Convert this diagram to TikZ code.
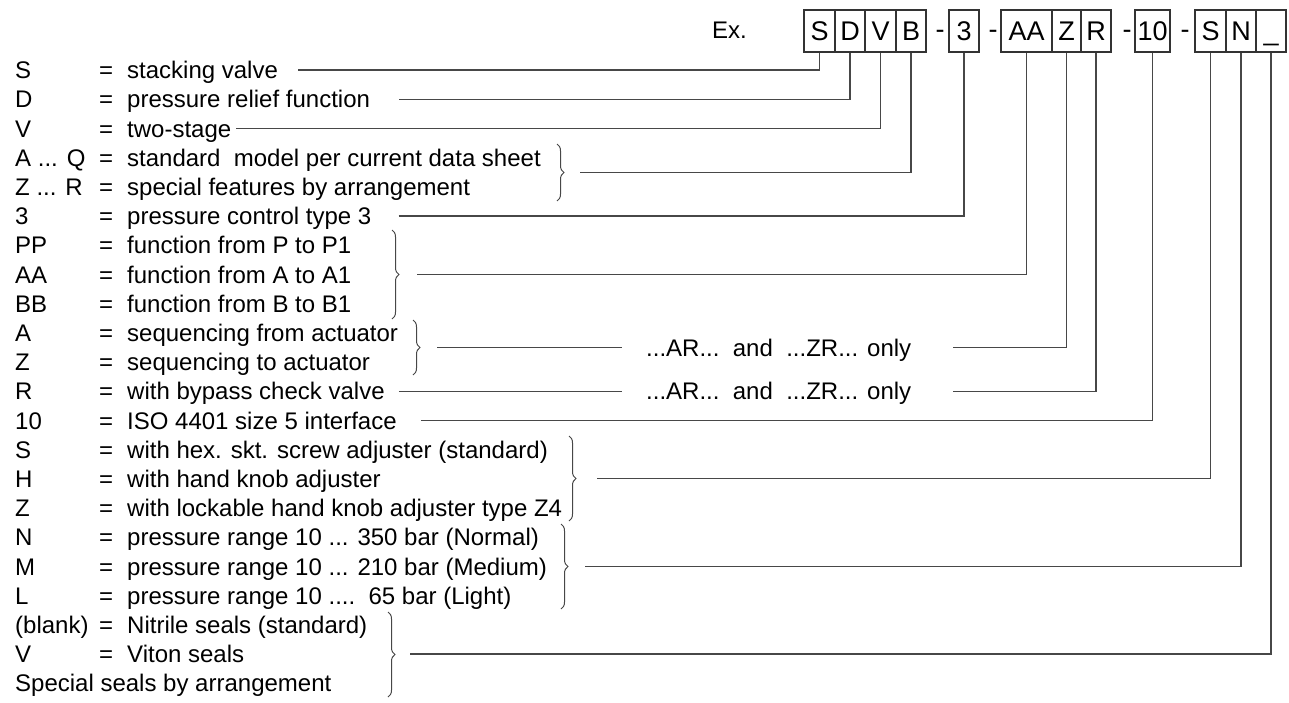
\documentclass[tikz,border=0pt]{standalone}
\usepackage{fontspec}
\setmainfont{Liberation Sans}
\usetikzlibrary{decorations.pathreplacing}
\begin{document}
\begin{tikzpicture}[x=1pt,y=-1pt,
  lab/.style={anchor=west,inner sep=0pt,font=\fontsize{24}{24}\selectfont,text height=17.2pt,text depth=0pt},
  cbox/.style={draw=black!80,line width=1.3pt,inner sep=0pt,minimum height=42pt,font=\fontsize{27}{27}\selectfont,text height=19.3pt,text depth=0pt},
  dashtxt/.style={anchor=base,inner sep=0pt,font=\fontsize{27}{27}\selectfont},
  conn/.style={draw=black!72,line width=1.1pt},
  brc/.style={draw=black!72,line width=1pt,decorate,decoration={brace,amplitude=7pt}},
]
\useasboundingbox (0,0) rectangle (1289,702);
% ---------- code boxes ----------
\node[inner sep=0pt,font=\fontsize{24}{24}\selectfont,text height=17.2pt,text depth=0pt] (ex) at (729.5,30) {Ex.};
\node[cbox,minimum width=31pt] (b1) at (819.5,31) {S};
\node[cbox,minimum width=30pt] (b2) at (850,31) {D};
\node[cbox,minimum width=31pt] (b3) at (880.5,31) {V};
\node[cbox,minimum width=30pt] (b4) at (911,31) {B};
\node[dashtxt] (m1) at (940,38.5) {-};
\node[cbox,minimum width=30pt] (b5) at (964,31) {3};
\node[dashtxt] (m2) at (993,38.5) {-};
\node[cbox,minimum width=51pt] (b6) at (1026.5,31) {AA};
\node[cbox,minimum width=29pt] (b7) at (1066.5,31) {Z};
\node[cbox,minimum width=30pt] (b8) at (1096,31) {R};
\node[dashtxt] (m3) at (1127,38.5) {-};
\node[cbox,minimum width=35pt] (b9) at (1152.5,31) {10};
\node[dashtxt] (m4) at (1185,38.5) {-};
\node[cbox,minimum width=31pt] (b10) at (1210.5,31) {S};
\node[cbox,minimum width=30pt] (b11) at (1241,31) {N};
\node[cbox,minimum width=30pt] (b12) at (1271,31) {\_};
% ---------- rows ----------
\node[lab] (c0) at (15,70.0) {S};        \node[lab] (e0) at (99,70.0) {=};  \node[lab] (d0) at (127,70.0) {stacking valve};
\node[lab] (c1) at (15,99.2) {D};        \node[lab] (e1) at (99,99.2) {=};  \node[lab] (d1) at (127,99.2) {pressure relief function};
\node[lab] (c2) at (15,128.4) {V};       \node[lab] (e2) at (99,128.4) {=}; \node[lab] (d2) at (127,128.4) {two-stage};
\node[lab] (c3) at (15,157.6) {A ... Q}; \node[lab] (e3) at (99,157.6) {=}; \node[lab] (d3) at (127,157.6) {standard\ \ model per current data sheet};
\node[lab] (c4) at (15,186.8) {Z ... R}; \node[lab] (e4) at (99,186.8) {=}; \node[lab] (d4) at (127,186.8) {special features by arrangement};
\node[lab] (c5) at (15,216.0) {3};       \node[lab] (e5) at (99,216.0) {=}; \node[lab] (d5) at (127,216.0) {pressure control type 3};
\node[lab] (c6) at (15,245.2) {PP};      \node[lab] (e6) at (99,245.2) {=}; \node[lab] (d6) at (127,245.2) {function from P to P1};
\node[lab] (c7) at (15,274.4) {AA};      \node[lab] (e7) at (99,274.4) {=}; \node[lab] (d7) at (127,274.4) {function from A to A1};
\node[lab] (c8) at (15,303.6) {BB};      \node[lab] (e8) at (99,303.6) {=}; \node[lab] (d8) at (127,303.6) {function from B to B1};
\node[lab] (c9) at (15,332.8) {A};       \node[lab] (e9) at (99,332.8) {=}; \node[lab] (d9) at (127,332.8) {sequencing from actuator};
\node[lab] (c10) at (15,362.0) {Z};      \node[lab] (e10) at (99,362.0) {=}; \node[lab] (d10) at (127,362.0) {sequencing to actuator};
\node[lab] (c11) at (15,391.2) {R};      \node[lab] (e11) at (99,391.2) {=}; \node[lab] (d11) at (127,391.2) {with bypass check valve};
\node[lab] (c12) at (15,420.4) {10};     \node[lab] (e12) at (99,420.4) {=}; \node[lab] (d12) at (127,420.4) {ISO 4401 size 5 interface};
\node[lab] (c13) at (15,449.6) {S};      \node[lab] (e13) at (99,449.6) {=}; \node[lab] (d13) at (127,449.6) {with hex. skt. screw adjuster (standard)};
\node[lab] (c14) at (15,478.8) {H};      \node[lab] (e14) at (99,478.8) {=}; \node[lab] (d14) at (127,478.8) {with hand knob adjuster};
\node[lab] (c15) at (15,508.0) {Z};      \node[lab] (e15) at (99,508.0) {=}; \node[lab] (d15) at (127,508.0) {with lockable hand knob adjuster type Z4};
\node[lab] (c16) at (15,537.2) {N};      \node[lab] (e16) at (99,537.2) {=}; \node[lab] (d16) at (127,537.2) {pressure range 10 ... 350 bar (Normal)};
\node[lab] (c17) at (15,566.4) {M};      \node[lab] (e17) at (99,566.4) {=}; \node[lab] (d17) at (127,566.4) {pressure range 10 ... 210 bar (Medium)};
\node[lab] (c18) at (15,595.6) {L};      \node[lab] (e18) at (99,595.6) {=}; \node[lab] (d18) at (127,595.6) {pressure range 10 ....\ \ 65 bar (Light)};
\node[lab] (c19) at (15,624.8) {(blank)}; \node[lab] (e19) at (99,624.8) {=}; \node[lab] (d19) at (127,624.8) {Nitrile seals (standard)};
\node[lab] (c20) at (15,654.0) {V};      \node[lab] (e20) at (99,654.0) {=}; \node[lab] (d20) at (127,654.0) {Viton seals};
\node[lab] (c21) at (15,683.2) {Special seals by arrangement};
% ---------- notes ----------
\node[lab] (ar1) at (646,347.4) {...AR...\ \ and\ \ ...ZR... only};
\node[lab] (ar2) at (646,391.2) {...AR...\ \ and\ \ ...ZR... only};
% ---------- braces ----------
\draw[brc] (557,144) -- (557,201);
\coordinate (t1) at (566,172.5);
\draw[brc] (392,230) -- (392,319);
\coordinate (t2) at (401,274.4);
\draw[brc] (413,320) -- (413,375);
\coordinate (t3) at (422,347.4);
\draw[brc] (569,436) -- (569,521);
\coordinate (t4) at (578,478.8);
\draw[brc] (561,524) -- (561,609);
\coordinate (t5) at (570,566.4);
\draw[brc] (388,612) -- (388,697);
\coordinate (t6) at (397,654);
% ---------- connectors ----------
\draw[conn] ([xshift=20pt]d0.east) -| (b1.south);
\draw[conn] ([xshift=29pt]d1.east) -| (b2.south);
\draw[conn] ([xshift=5pt]d2.east) -| (b3.south);
\draw[conn] ([xshift=14pt]t1) -| (b4.south);
\draw[conn] ([xshift=27pt]d5.east) -| (b5.south);
\draw[conn] ([xshift=16pt]t2) -| (b6.south);
\draw[conn] ([xshift=15pt]t3) -- ([xshift=-24pt]ar1.west);
\draw[conn] ([xshift=42pt]ar1.east) -| (b7.south);
\draw[conn] ([xshift=14pt]d11.east) -- ([xshift=-24pt]ar2.west);
\draw[conn] ([xshift=42pt]ar2.east) -| (b8.south);
\draw[conn] ([xshift=24pt]d12.east) -| (b9.south);
\draw[conn] ([xshift=19pt]t4) -| (b10.south);
\draw[conn] ([xshift=15pt]t5) -| (b11.south);
\draw[conn] ([xshift=13pt]t6) -| (b12.south);
\end{tikzpicture}
\end{document}
